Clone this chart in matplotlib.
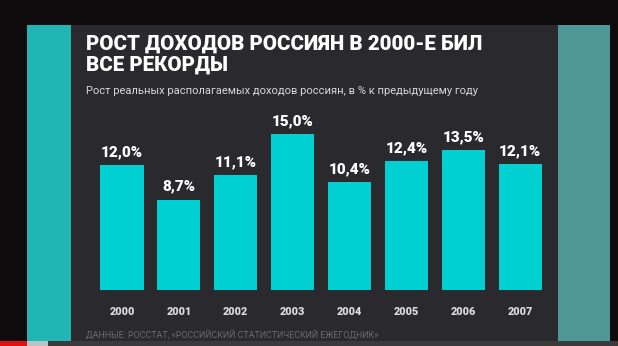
import matplotlib.pyplot as plt
from matplotlib.patches import Rectangle
import numpy as np

years = ['2000', '2001', '2002', '2003', '2004', '2005', '2006', '2007']
growth = [12.0, 8.7, 11.1, 15.0, 10.4, 12.4, 13.5, 12.1]
labels = ['12,0%', '8,7%', '11,1%', '15,0%', '10,4%', '12,4%', '13,5%', '12,1%']

W, H = 618, 346
fig = plt.figure(figsize=(W / 100, H / 100), dpi=100)
fig.patch.set_facecolor('#0d0b0b')


def px_rect(x0, y0, x1, y1, color, z=-1):
    # rectangle given in pixel coords, y from the top
    fig.patches.append(Rectangle((x0 / W, 1 - y1 / H), (x1 - x0) / W, (y1 - y0) / H,
                                 transform=fig.transFigure, color=color, zorder=z, lw=0))


# background panels of the video frame
px_rect(27, 25, 71, 346, '#22b5b5')
px_rect(71, 25, 558, 346, '#2a292d')
px_rect(558, 25, 610, 346, '#4f9797')
# progress bar
px_rect(0, 341, 618, 346, '#3a3a3a', 5)
px_rect(0, 341, 27, 346, '#e01010', 6)
px_rect(27, 341, 48, 346, '#b8c4c4', 6)

# chart axes
left, right_px = 93.5, 93.5 + 8 * 56.9
bottom_px, top_px = 290, 290 - 16 * 10.4
ax = fig.add_axes([left / W, 1 - bottom_px / H, (right_px - left) / W, (bottom_px - top_px) / H])
ax.set_zorder(1)
ax.set_facecolor('none')
x = np.arange(len(years))
ax.bar(x, growth, width=0.76, color='#00d0d2', zorder=2)
for xi, v, lab in zip(x, growth, labels):
    ax.text(xi, v + 0.55, lab, ha='center', va='bottom', color='white',
            fontsize=11, fontweight='black', family='Roboto')
ax.set_xlim(-0.5, 7.5)
ax.set_ylim(0, 16)
ax.set_xticks(x)
ax.set_xticklabels(years, color='#dcdcdc', fontsize=7.8, fontweight='black', family='Roboto')
ax.tick_params(axis='x', length=0, pad=12)
ax.set_yticks([])
for s in ax.spines.values():
    s.set_visible(False)

fig.text(86 / W, 1 - 35 / H, 'РОСТ ДОХОДОВ РОССИЯН В 2000-Е БИЛ\nВСЕ РЕКОРДЫ', ha='left', va='top',
         color='white', fontsize=14.8, fontweight='black', family='Roboto', linespacing=1.08)
fig.text(86 / W, 1 - 91 / H, 'Рост реальных располагаемых доходов россиян, в % к предыдущему году',
         ha='left', va='center', color='#d8d8d8', fontsize=8, family='Roboto')
fig.text(86 / W, 1 - 336 / H, 'ДАННЫЕ: РОССТАТ, «РОССИЙСКИЙ СТАТИСТИЧЕСКИЙ ЕЖЕГОДНИК»',
         ha='left', va='center', color='#6a6a6e', fontsize=6.4, family='Roboto')

fig.savefig('out.png', dpi=100, facecolor=fig.get_facecolor())
